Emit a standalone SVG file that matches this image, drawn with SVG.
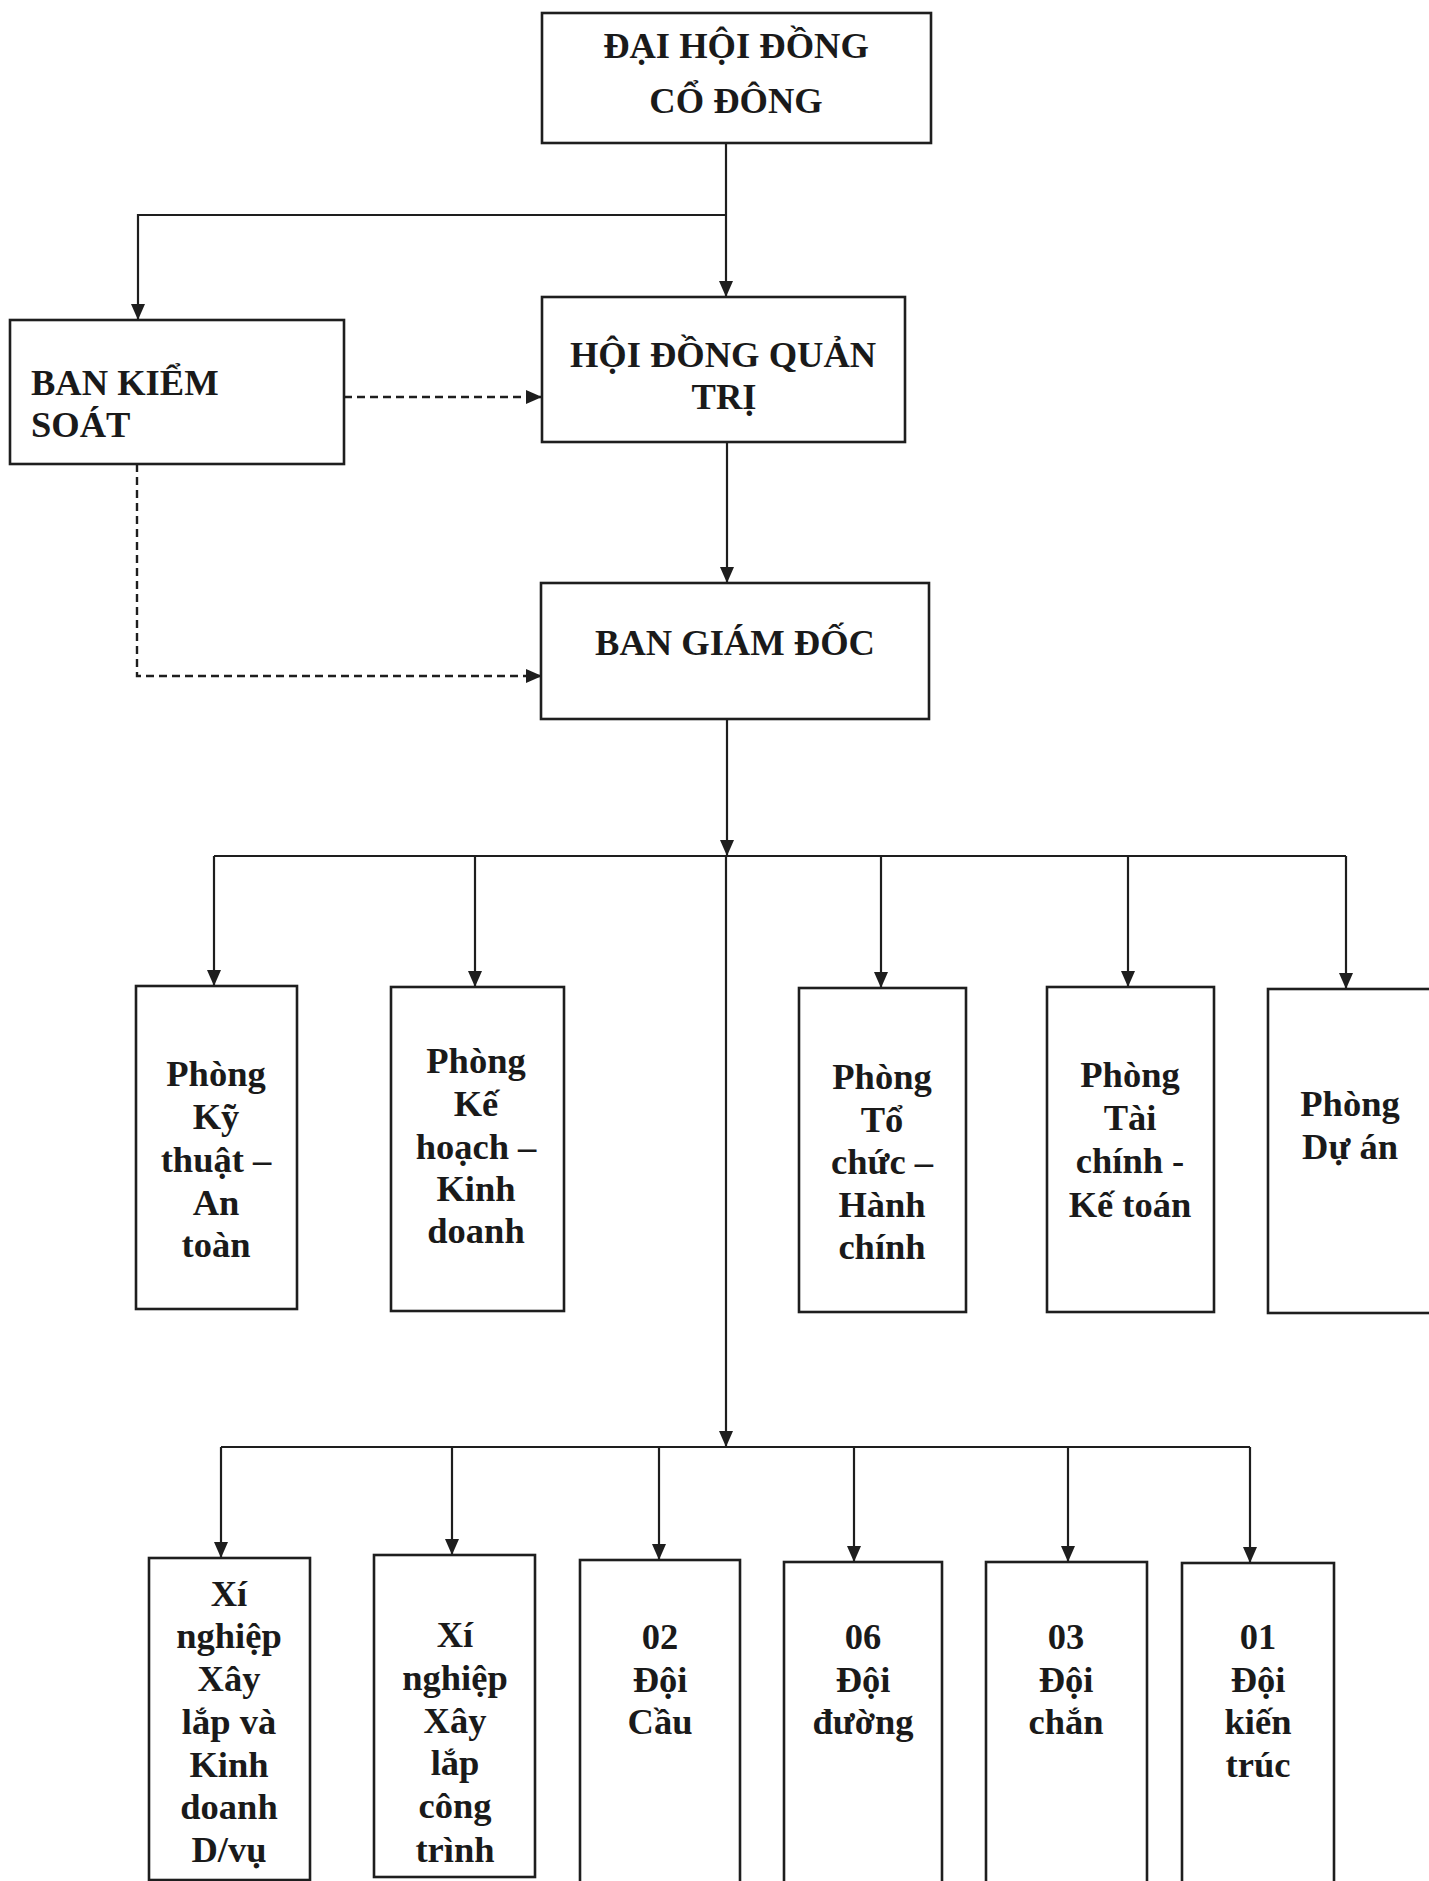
<svg xmlns="http://www.w3.org/2000/svg" width="1429" height="1881" viewBox="0 0 1429 1881">
<style>
.box{fill:#ffffff;stroke:#1e1e1e;stroke-width:2.6}
.t{font-family:"Liberation Serif","Times New Roman",serif;font-weight:bold;font-size:36.5px;fill:#1a1a1a;text-anchor:middle}
.tl{text-anchor:start}
.ln{fill:none;stroke:#1e1e1e;stroke-width:2.2}
.dash{fill:none;stroke:#1e1e1e;stroke-width:2.4;stroke-dasharray:8 5}
</style>
<defs>
<marker id="arr" markerUnits="userSpaceOnUse" markerWidth="16" markerHeight="14" refX="16" refY="7" orient="auto">
<path d="M0,0 L16,7 L0,14 z" fill="#1e1e1e"/>
</marker>
</defs>
<rect width="1429" height="1881" fill="#ffffff"/>

<g id="connectors">
<path class="ln" d="M726,143 V297" marker-end="url(#arr)"/>
<path class="ln" d="M726,215 H138 V320" marker-end="url(#arr)"/>
<path class="dash" d="M344,397 H542" marker-end="url(#arr)"/>
<path class="dash" d="M137,464 V676 H542" marker-end="url(#arr)"/>
<path class="ln" d="M727,442 V583" marker-end="url(#arr)"/>
<path class="ln" d="M727,719 V856" marker-end="url(#arr)"/>
<path class="ln" d="M726,856 V1447" marker-end="url(#arr)"/>
<path class="ln" d="M214,856 H1346"/>
<path class="ln" d="M214,856 V986" marker-end="url(#arr)"/>
<path class="ln" d="M475,856 V987" marker-end="url(#arr)"/>
<path class="ln" d="M881,856 V988" marker-end="url(#arr)"/>
<path class="ln" d="M1128,856 V987" marker-end="url(#arr)"/>
<path class="ln" d="M1346,856 V989" marker-end="url(#arr)"/>
<path class="ln" d="M221,1447 H1250"/>
<path class="ln" d="M221,1447 V1558" marker-end="url(#arr)"/>
<path class="ln" d="M452,1447 V1555" marker-end="url(#arr)"/>
<path class="ln" d="M659,1447 V1560" marker-end="url(#arr)"/>
<path class="ln" d="M854,1447 V1562" marker-end="url(#arr)"/>
<path class="ln" d="M1068,1447 V1562" marker-end="url(#arr)"/>
<path class="ln" d="M1250,1447 V1563" marker-end="url(#arr)"/>
</g>

<g id="dai-hoi-dong-co-dong">
<rect class="box" x="542" y="13" width="389" height="130"/>
<text class="t" x="736" y="58">ĐẠI HỘI ĐỒNG</text>
<text class="t" x="736" y="113">CỔ ĐÔNG</text>
</g>

<g id="ban-kiem-soat">
<rect class="box" x="10" y="320" width="334" height="144"/>
<text class="t tl" x="31" y="395">BAN KIỂM</text>
<text class="t tl" x="31" y="437">SOÁT</text>
</g>

<g id="hoi-dong-quan-tri">
<rect class="box" x="542" y="297" width="363" height="145"/>
<text class="t" x="723" y="367">HỘI ĐỒNG QUẢN</text>
<text class="t" x="724" y="409">TRỊ</text>
</g>

<g id="ban-giam-doc">
<rect class="box" x="541" y="583" width="388" height="136"/>
<text class="t" x="735" y="655">BAN GIÁM ĐỐC</text>
</g>

<g id="phong-ky-thuat">
<rect class="box" x="136" y="986" width="161" height="323"/>
<text class="t" x="216" y="1086">Phòng</text>
<text class="t" x="216" y="1129">Kỹ</text>
<text class="t" x="216" y="1172">thuật –</text>
<text class="t" x="216" y="1215">An</text>
<text class="t" x="216" y="1257">toàn</text>
</g>

<g id="phong-ke-hoach">
<rect class="box" x="391" y="987" width="173" height="324"/>
<text class="t" x="476" y="1073">Phòng</text>
<text class="t" x="476" y="1116">Kế</text>
<text class="t" x="476" y="1159">hoạch –</text>
<text class="t" x="476" y="1201">Kinh</text>
<text class="t" x="476" y="1243">doanh</text>
</g>

<g id="phong-to-chuc">
<rect class="box" x="799" y="988" width="167" height="324"/>
<text class="t" x="882" y="1089">Phòng</text>
<text class="t" x="882" y="1132">Tổ</text>
<text class="t" x="882" y="1174">chức –</text>
<text class="t" x="882" y="1217">Hành</text>
<text class="t" x="882" y="1259">chính</text>
</g>

<g id="phong-tai-chinh">
<rect class="box" x="1047" y="987" width="167" height="325"/>
<text class="t" x="1130" y="1087">Phòng</text>
<text class="t" x="1130" y="1130">Tài</text>
<text class="t" x="1130" y="1173">chính -</text>
<text class="t" x="1130" y="1217">Kế toán</text>
</g>

<g id="phong-du-an">
<rect class="box" x="1268" y="989" width="180" height="324"/>
<text class="t" x="1350" y="1116">Phòng</text>
<text class="t" x="1350" y="1159">Dự án</text>
</g>

<g id="xi-nghiep-xay-lap-kinh-doanh">
<rect class="box" x="149" y="1558" width="161" height="322"/>
<text class="t" x="229" y="1606">Xí</text>
<text class="t" x="229" y="1648">nghiệp</text>
<text class="t" x="229" y="1691">Xây</text>
<text class="t" x="229" y="1734">lắp và</text>
<text class="t" x="229" y="1777">Kinh</text>
<text class="t" x="229" y="1819">doanh</text>
<text class="t" x="229" y="1862">D/vụ</text>
</g>

<g id="xi-nghiep-xay-lap-cong-trinh">
<rect class="box" x="374" y="1555" width="161" height="322"/>
<text class="t" x="455" y="1647">Xí</text>
<text class="t" x="455" y="1690">nghiệp</text>
<text class="t" x="455" y="1733">Xây</text>
<text class="t" x="455" y="1775">lắp</text>
<text class="t" x="455" y="1818">công</text>
<text class="t" x="455" y="1862">trình</text>
</g>

<g id="doi-cau">
<rect class="box" x="580" y="1560" width="160" height="340"/>
<text class="t" x="660" y="1649">02</text>
<text class="t" x="660" y="1692">Đội</text>
<text class="t" x="660" y="1734">Cầu</text>
</g>

<g id="doi-duong">
<rect class="box" x="784" y="1562" width="158" height="340"/>
<text class="t" x="863" y="1649">06</text>
<text class="t" x="863" y="1692">Đội</text>
<text class="t" x="863" y="1734">đường</text>
</g>

<g id="doi-chan">
<rect class="box" x="986" y="1562" width="161" height="340"/>
<text class="t" x="1066" y="1649">03</text>
<text class="t" x="1066" y="1692">Đội</text>
<text class="t" x="1066" y="1734">chắn</text>
</g>

<g id="doi-kien-truc">
<rect class="box" x="1182" y="1563" width="152" height="340"/>
<text class="t" x="1258" y="1649">01</text>
<text class="t" x="1258" y="1692">Đội</text>
<text class="t" x="1258" y="1734">kiến</text>
<text class="t" x="1258" y="1777">trúc</text>
</g>
</svg>
